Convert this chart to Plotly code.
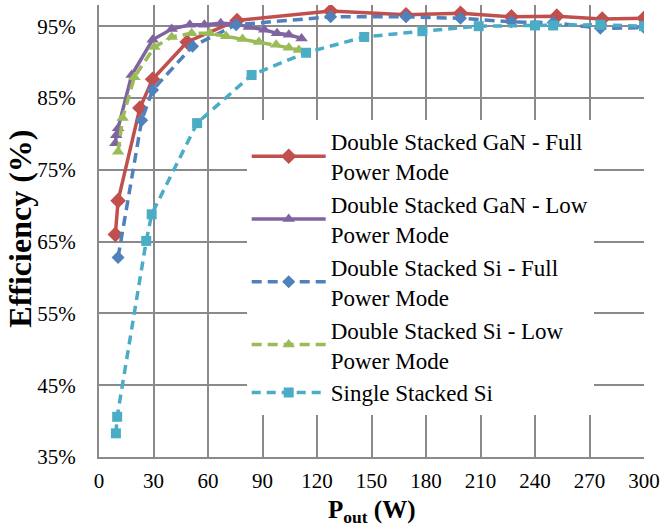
import plotly.graph_objects as go

# ---- data (P_out in W, efficiency in %) ----
gan_full_x = [9, 10.5, 22.5, 29.5, 48.5, 76, 127.5, 169, 199, 227, 252, 277, 300]
gan_full_y = [66.0, 70.7, 83.6, 87.6, 92.8, 95.8, 97.1, 96.6, 96.8, 96.3, 96.4, 96.0, 96.1]

gan_low_x = [9, 9.5, 10.5, 18, 29.5, 40, 50, 58, 67, 75.5, 82.5, 91, 98, 104.5, 111.5]
gan_low_y = [78.7, 79.8, 80.8, 88.2, 93.1, 94.6, 95.2, 95.2, 95.4, 95.3, 94.9, 94.5, 94.0, 93.8, 93.3]

si_full_x = [10.5, 23.5, 29.5, 51.5, 75.5, 127.5, 169, 199, 227, 250, 276, 300]
si_full_y = [62.8, 81.9, 86.1, 92.2, 95.2, 96.3, 96.3, 96.1, 95.6, 95.5, 94.7, 94.8]

si_low_x = [10.5, 13, 19.5, 30.5, 40, 51, 61, 70, 79, 88, 97.5, 104.5, 110]
si_low_y = [77.5, 82.2, 87.9, 92.1, 93.5, 94.0, 94.0, 93.6, 93.2, 92.8, 92.4, 92.0, 91.7]

single_x = [9.3, 10, 26, 29, 54, 84, 114, 146, 178, 209, 240, 250, 276, 300]
single_y = [38.3, 40.6, 65.1, 68.8, 81.5, 88.2, 91.3, 93.5, 94.3, 95.0, 95.1, 95.1, 95.2, 95.0]

names = [
    "Double Stacked GaN - Full<br>Power Mode",
    "Double Stacked GaN - Low<br>Power Mode",
    "Double Stacked Si - Full<br>Power Mode",
    "Double Stacked Si - Low<br>Power Mode",
    "Single Stacked Si",
]

x_ticks = list(range(0, 301, 30))
y_ticks = [35, 45, 55, 65, 75, 85, 95]
y_ticktext = ["35%", "45%", "55%", "65%", "75%", "85%", "95%"]

FONT = "Liberation Serif, Times New Roman, serif"

fig = go.Figure()
series = [
    (gan_full_x, gan_full_y, "#C0504D", "solid", "diamond", 12),
    (gan_low_x, gan_low_y, "#8064A2", "solid", "triangle-up", 11),
    (si_full_x, si_full_y, "#4F81BD", "10px,6px", "diamond", 10),
    (si_low_x, si_low_y, "#9BBB59", "10px,6px", "triangle-up", 11),
    (single_x, single_y, "#4BACC6", "9px,6px", "square", 10),
]
for (xs, ys, col, dash, sym, sz), nm in zip(series, names):
    fig.add_trace(go.Scatter(
        x=xs, y=ys, name=nm, mode="lines+markers",
        line=dict(color=col, width=3.5, dash=dash),
        marker=dict(symbol=sym, size=sz, color=col),
    ))

fig.update_layout(
    width=665, height=532,
    margin=dict(l=99, r=17, t=5, b=75),
    paper_bgcolor="white", plot_bgcolor="white",
    font=dict(family=FONT, size=21, color="black"),
    showlegend=True,
    legend=dict(
        x=0.271, y=0.746, xanchor="left", yanchor="top",
        bgcolor="white", borderwidth=0,
        font=dict(family=FONT, size=23, color="black"),
        tracegroupgap=0, itemwidth=74,
    ),
    shapes=[
        dict(type="rect", xref="paper", yref="paper",
             x0=0.233, x1=0.945, y0=0.042, y1=0.746,
             fillcolor="white", line=dict(width=0), layer="between"),
    ],
    xaxis=dict(
        range=[0, 300], tickmode="array", tickvals=x_ticks,
        ticktext=[str(v) for v in x_ticks], ticks="",
        showgrid=True, gridcolor="#8A8A8A", gridwidth=2,
        showline=True, linecolor="#8A8A8A", linewidth=2,
        zeroline=False, ticklabelstandoff=4,
        tickfont=dict(family=FONT, size=21, color="black"),
    ),
    yaxis=dict(
        range=[35, 97.95], tickmode="array", tickvals=y_ticks,
        ticktext=y_ticktext, ticks="",
        showgrid=True, gridcolor="#8A8A8A", gridwidth=2,
        showline=True, linecolor="#8A8A8A", linewidth=2,
        zeroline=False, ticklabelstandoff=17,
        tickfont=dict(family=FONT, size=21, color="black"),
    ),
    annotations=[
        dict(text="<b>Efficiency (%)</b>", textangle=-90,
             xref="paper", yref="paper", x=-0.145, y=0.505,
             xanchor="center", yanchor="middle", showarrow=False,
             font=dict(family=FONT, size=32, color="black")),
        dict(text="<b>P<sub>out</sub> (W)</b>",
             xref="paper", yref="paper", x=0.5, y=-0.12,
             xanchor="center", yanchor="middle", showarrow=False,
             font=dict(family=FONT, size=25, color="black")),
    ],
)

fig.write_html("out.html")
